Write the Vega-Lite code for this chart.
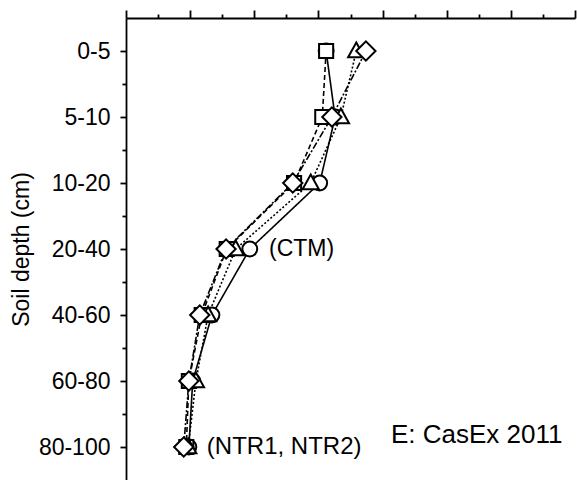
{
  "$schema": "https://vega.github.io/schema/vega-lite/v6.json",
  "width": 449,
  "height": 462,
  "autosize": {"type": "none"},
  "padding": {"left": 126, "top": 18, "right": 2, "bottom": 0},
  "background": "white",
  "config": {"view": {"stroke": null}, "font": "Liberation Sans"},
  "datasets": {
    "profiles": [
      {"series": "A", "depth": "0-5", "pos": 1, "value": 3.12},
      {"series": "A", "depth": "5-10", "pos": 2, "value": 3.26},
      {"series": "A", "depth": "10-20", "pos": 3, "value": 3.02},
      {"series": "A", "depth": "20-40", "pos": 4, "value": 1.93},
      {"series": "A", "depth": "40-60", "pos": 5, "value": 1.34},
      {"series": "A", "depth": "60-80", "pos": 6, "value": 1.04},
      {"series": "A", "depth": "80-100", "pos": 7, "value": 0.98},
      {"series": "B", "depth": "0-5", "pos": 1, "value": 3.12},
      {"series": "B", "depth": "5-10", "pos": 2, "value": 3.06},
      {"series": "B", "depth": "10-20", "pos": 3, "value": 2.62},
      {"series": "B", "depth": "20-40", "pos": 4, "value": 1.57},
      {"series": "B", "depth": "40-60", "pos": 5, "value": 1.18},
      {"series": "B", "depth": "60-80", "pos": 6, "value": 0.98},
      {"series": "B", "depth": "80-100", "pos": 7, "value": 0.94},
      {"series": "C", "depth": "0-5", "pos": 1, "value": 3.59},
      {"series": "C", "depth": "5-10", "pos": 2, "value": 3.35},
      {"series": "C", "depth": "10-20", "pos": 3, "value": 2.88},
      {"series": "C", "depth": "20-40", "pos": 4, "value": 1.71},
      {"series": "C", "depth": "40-60", "pos": 5, "value": 1.28},
      {"series": "C", "depth": "60-80", "pos": 6, "value": 1.09},
      {"series": "C", "depth": "80-100", "pos": 7, "value": 0.97},
      {"series": "D", "depth": "0-5", "pos": 1, "value": 3.74},
      {"series": "D", "depth": "5-10", "pos": 2, "value": 3.21},
      {"series": "D", "depth": "10-20", "pos": 3, "value": 2.6},
      {"series": "D", "depth": "20-40", "pos": 4, "value": 1.56},
      {"series": "D", "depth": "40-60", "pos": 5, "value": 1.15},
      {"series": "D", "depth": "60-80", "pos": 6, "value": 0.98},
      {"series": "D", "depth": "80-100", "pos": 7, "value": 0.9}
    ],
    "notes": [
      {"label": "(CTM)", "pos": 4, "value": 2.23, "size": 23},
      {"label": "(NTR1, NTR2)", "pos": 7, "value": 1.26, "size": 24},
      {"label": "E: CasEx 2011", "pos": 6.82, "value": 4.13, "size": 26}
    ]
  },
  "resolve": {"axis": {"x": "independent", "y": "independent"}, "scale": {"size": "independent"}},
  "layer": [
    {
      "data": {"name": "profiles"},
      "mark": {"type": "line", "color": "black", "strokeWidth": 1.6},
      "encoding": {
        "x": {
          "field": "value", "type": "quantitative",
          "scale": {"domain": [0, 7], "nice": false, "zero": false},
          "axis": {
            "orient": "top", "title": null, "labels": false, "grid": false,
            "values": [0, 1, 2, 3, 4, 5, 6, 7],
            "domainColor": "black", "domainWidth": 1.8,
            "tickColor": "black", "tickWidth": 1.8, "tickSize": 8
          }
        },
        "y": {
          "field": "pos", "type": "quantitative",
          "scale": {"domain": [0.5, 7.5], "reverse": true, "nice": false, "zero": false},
          "axis": {
            "orient": "left", "title": "Soil depth (cm)", "grid": false,
            "values": [1, 2, 3, 4, 5, 6, 7],
            "labelExpr": "['0-5','5-10','10-20','20-40','40-60','60-80','80-100'][datum.value - 1]",
            "labelOverlap": false, "labelBound": false,
            "labelFont": "Liberation Sans", "labelFontSize": 23, "labelColor": "black",
            "labelPadding": 10,
            "titleFont": "Liberation Sans", "titleFontSize": 23, "titleFontWeight": "normal",
            "titleColor": "black", "titlePadding": 5,
            "domainColor": "black", "domainWidth": 1.8,
            "tickColor": "black", "tickWidth": 1.8, "tickSize": 6
          }
        },
        "strokeDash": {
          "field": "series", "type": "nominal",
          "scale": {"domain": ["A", "B", "C", "D"], "range": [[1, 0], [5, 3], [2, 2], [7, 2, 2, 2]]},
          "legend": null
        },
        "order": {"field": "pos", "type": "quantitative"}
      }
    },
    {
      "data": {"name": "profiles"},
      "mark": {"type": "point", "filled": true, "fill": "white", "stroke": "black", "strokeWidth": 2, "opacity": 1, "size": 220},
      "encoding": {
        "x": {
          "field": "value", "type": "quantitative",
          "axis": {
            "orient": "top", "title": null, "labels": false, "grid": false, "domain": false,
            "values": [0.5, 1.5, 2.5, 3.5, 4.5, 5.5, 6.5],
            "tickColor": "black", "tickWidth": 1.8, "tickSize": 4
          }
        },
        "y": {
          "field": "pos", "type": "quantitative",
          "axis": {
            "orient": "left", "title": null, "labels": false, "grid": false, "domain": false,
            "values": [1.5, 2.5, 3.5, 4.5, 5.5, 6.5],
            "tickColor": "black", "tickWidth": 1.8, "tickSize": 4
          }
        },
        "shape": {
          "field": "series", "type": "nominal",
          "scale": {"domain": ["A", "B", "C", "D"], "range": ["circle", "M-0.95,-0.95L0.95,-0.95L0.95,0.95L-0.95,0.95Z", "M0,-1.15L1.1,0.85L-1.1,0.85Z", "M-1.3,0L0,-1.3L1.3,0L0,1.3Z"]},
          "legend": null
        }
      }
    },
    {
      "data": {"name": "notes"},
      "mark": {"type": "text", "align": "left", "baseline": "middle", "font": "Liberation Sans", "color": "black"},
      "encoding": {
        "x": {"field": "value", "type": "quantitative", "axis": null},
        "y": {"field": "pos", "type": "quantitative", "axis": null},
        "text": {"field": "label", "type": "nominal"},
        "size": {"field": "size", "type": "quantitative", "scale": null, "legend": null}
      }
    }
  ]
}
